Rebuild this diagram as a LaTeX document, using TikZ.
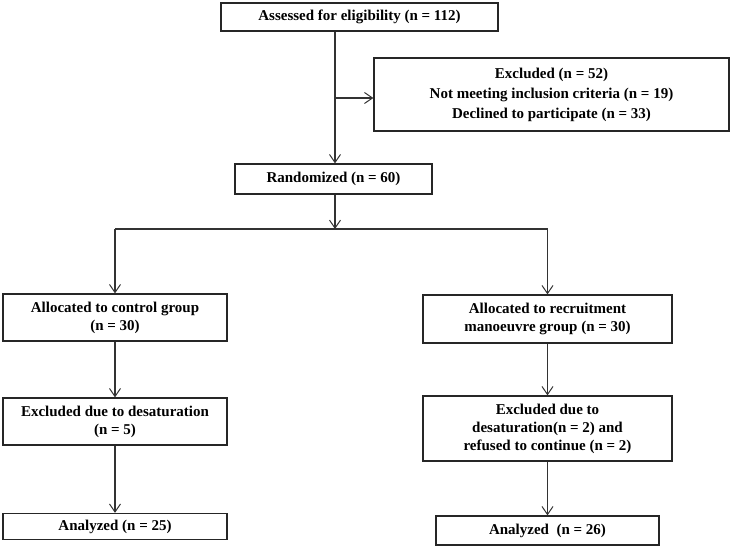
\documentclass[tikz,border=0pt]{standalone}
\usepackage{fontspec}
\setmainfont{Liberation Serif}
\usetikzlibrary{arrows.meta}
\begin{document}
\begin{tikzpicture}[x=1pt,y=-1pt,
  box/.style={draw=black!85, line width=1.3pt, inner sep=0pt, align=center,
    font=\bfseries\fontsize{15}{18}\selectfont, text=black},
  arr/.style={draw=black!80, line width=1.1pt, -{Straight Barb[length=8pt,width=11pt,line width=1pt]}},
  ln/.style={draw=black!80, line width=1.1pt}]
\useasboundingbox (0,0) rectangle (737,548);
\node[box, minimum width=277, minimum height=28] (top) at (359.5,17) {Assessed for eligibility (n = 112)};
\node[box, minimum width=355, minimum height=73, font=\bfseries\fontsize{15}{20}\selectfont] (excl) at (551.5,94.5) {Excluded (n = 52)\\Not meeting inclusion criteria (n = 19)\\Declined to participate (n = 33)};
\node[box, minimum width=197, minimum height=30] (rand) at (333.5,179) {Randomized (n = 60)};
\node[box, minimum width=224, minimum height=47] (lalloc) at (115,317.5) {Allocated to control group\\(n = 30)};
\node[box, minimum width=249, minimum height=48] (ralloc) at (547.5,319) {Allocated to recruitment\\manoeuvre group (n = 30)};
\node[box, minimum width=224, minimum height=47] (lexcl) at (115,421.5) {Excluded due to desaturation\\(n = 5)};
\node[box, minimum width=249, minimum height=65] (rexcl) at (547.5,428.5) {Excluded due to\\desaturation(n = 2) and\\refused to continue (n = 2)};
\node[box, minimum width=224, minimum height=26] (lan) at (115,526.5) {Analyzed (n = 25)};
\node[box, minimum width=223, minimum height=29] (ran) at (547.5,530.5) {Analyzed~~(n = 26)};
\coordinate (j) at (335,98);
\coordinate (br) at (335,229);
\draw[arr] (top.south -| br) -- (br |- rand.north);
\draw[arr] (j) -- (j -| excl.west);
\draw[arr] (br |- rand.south) -- (br);
\draw[ln] (br -| lalloc.north) -- (br -| ralloc.north);
\draw[arr] (br -| lalloc.north) -- (lalloc.north);
\draw[arr] (br -| ralloc.north) -- (ralloc.north);
\draw[arr] (lalloc.south) -- (lexcl.north);
\draw[arr] (ralloc.south) -- (rexcl.north);
\draw[arr] (lexcl.south) -- (lan.north);
\draw[arr] (rexcl.south) -- (ran.north);
\end{tikzpicture}
\end{document}
